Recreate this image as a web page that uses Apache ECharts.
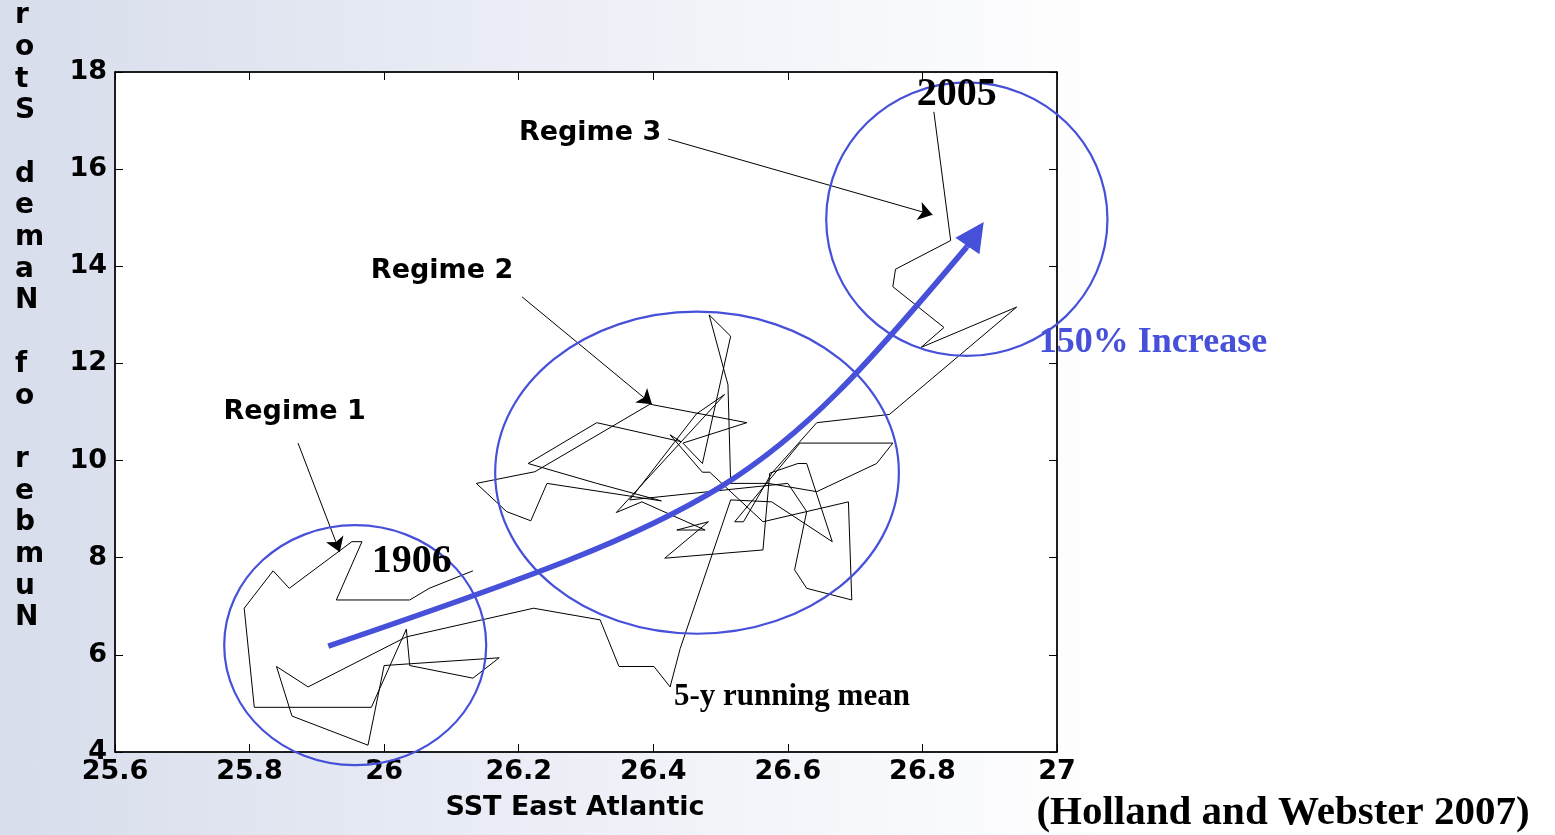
<!DOCTYPE html>
<html><head><meta charset="utf-8">
<script src="https://cdn.jsdelivr.net/npm/echarts@6/dist/echarts.min.js"></script>
<style>
html,body{margin:0;padding:0;width:1555px;height:835px;overflow:hidden;
background:linear-gradient(90deg,#d8ddec 0%,#e2e6f1 18%,#f1f3f9 45%,#ffffff 72%);}
#c{width:1555px;height:835px;}
</style>
</head><body><div id="c"></div>
<script>
// ---- data (5-y running mean trajectory, 1906 -> 2005) ----
const sst = [26.132, 26.067, 26.038, 25.929, 25.967, 25.952, 25.859, 25.835, 25.792, 25.807,
  25.981, 26.033, 26.038, 26.132, 26.171, 26.000, 25.976, 25.863, 25.840, 25.887,
  26.033, 26.222, 26.321, 26.349, 26.401, 26.425,
  26.440, 26.515, 26.576, 26.666, 26.628, 26.615, 26.573, 26.563, 26.417, 26.482,
  26.435, 26.477, 26.383, 26.345, 26.506, 26.464, 26.365, 26.600, 26.628, 26.610,
  26.628, 26.695, 26.690, 26.563, 26.484, 26.473, 26.425, 26.441, 26.316, 26.214,
  26.316, 26.412, 26.242, 26.218, 26.182, 26.137, 26.224, 26.395, 26.539, 26.444,
  26.473, 26.515, 26.483, 26.511, 26.515, 26.571, 26.643, 26.732, 26.756, 26.618,
  26.521, 26.534, 26.576, 26.643, 26.751,
  26.940, 26.798, 26.832, 26.756, 26.760, 26.842, 26.817];
const storms = [7.73, 7.37, 7.13, 7.13, 8.33, 8.33, 7.37, 7.73, 6.96, 4.92,
  4.92, 6.53, 5.78, 5.52, 5.94, 5.78, 4.14, 4.74, 5.76, 5.34,
  6.37, 6.96, 6.72, 5.76, 5.76, 5.34,
  6.13, 9.19, 9.15, 8.33, 9.94, 9.94, 9.74, 8.16, 7.99, 8.74,
  8.57, 8.57, 9.15, 8.93, 11.36, 10.96, 9.19, 9.53, 8.95, 7.75,
  7.37, 7.13, 9.15, 8.74, 9.76, 9.76, 10.53, 10.39, 10.78, 9.94,
  9.53, 9.17, 9.53, 8.76, 8.95, 9.53, 9.77, 11.16, 10.78, 10.36,
  9.94, 12.56, 13.00, 11.56, 9.53, 9.53, 9.36, 9.94, 10.36, 10.36,
  8.74, 8.74, 9.74, 10.78, 10.95,
  13.16, 12.33, 12.74, 13.58, 13.94, 14.53, 17.18];
// trend arrow (150% increase): start, tangent corner, end
const trendSst = [25.917, 26.548, 26.866];
const trendStorms = [6.18, 9.16, 14.40];
const trendHead = [[26.866, 14.40], [26.879, 14.665]];
// tick settings
const xMin = 25.6, xMax = 27, xStep = 0.2;
const yMin = 4, yMax = 18, yStep = 2;
const xName = 'SST East Atlantic';
const yNameChars = ['r','o','t','S',' ','d','e','m','a','N',' ','f','o',' ','r','e','b','m','u','N'];
// annotation anchors (data coords)
const regimeArrows = [
  [[25.872, 10.36], [25.934, 8.12]],
  [[26.205, 13.37], [26.398, 11.16]],
  [[26.422, 16.62], [26.815, 15.06]]
];
const ellipses = [
  {cx: 25.957, cy: 6.20, rx: 0.1947, ry: 2.47},
  {cx: 26.465, cy: 9.75, rx: 0.300, ry: 3.315},
  {cx: 26.866, cy: 14.97, rx: 0.209, ry: 2.815}
];
const labels = [
  {text: 'Regime 1', x: 25.867, y: 11.00, kind: 'sans'},
  {text: 'Regime 2', x: 26.086, y: 13.90, kind: 'sans'},
  {text: 'Regime 3', x: 26.306, y: 16.74, kind: 'sans'},
  {text: '1906', x: 26.041, y: 7.91, kind: 'year'},
  {text: '2005', x: 26.851, y: 17.53, kind: 'year'},
  {text: '5-y running mean', x: 26.606, y: 5.13, kind: 'note'},
  {text: '150% Increase', x: 26.973, y: 12.42, kind: 'blue'}
];
const source = '(Holland and Webster 2007)';

const BLUE = '#4650d8';
const SANS = '"DejaVu Sans", sans-serif';
const SERIF = '"Liberation Serif", "Times New Roman", serif';

const chart = echarts.init(document.getElementById('c'), null, {renderer: 'canvas'});
const fmt = v => String(+(+v).toFixed(1));
const axisCommon = {
  axisLine: {show: true, onZero: false, lineStyle: {color: '#000', width: 1.5}},
  axisTick: {show: true, inside: true, length: 8, lineStyle: {color: '#000', width: 1}},
  splitLine: {show: false}
};
chart.setOption({
  animation: false,
  backgroundColor: 'transparent',
  grid: {left: 115, top: 72, width: 942, height: 680, show: true, backgroundColor: '#fff', borderColor: '#000', borderWidth: 1},
  xAxis: [
    Object.assign({type: 'value', position: 'bottom', min: xMin, max: xMax, interval: xStep,
      axisLabel: {formatter: fmt, color: '#000', fontFamily: SANS, fontWeight: 'bold', fontSize: 27, margin: 6},
      name: xName, nameLocation: 'middle', nameGap: 42,
      nameTextStyle: {color: '#000', fontFamily: SANS, fontWeight: 'bold', fontSize: 27, padding: [0, 22, 0, 0]}
    }, axisCommon),
    Object.assign({type: 'value', position: 'top', min: xMin, max: xMax, interval: xStep, axisLabel: {show: false}}, axisCommon)
  ],
  yAxis: [
    Object.assign({type: 'value', position: 'left', min: yMin, max: yMax, interval: yStep,
      axisLabel: {color: '#000', fontFamily: SANS, fontWeight: 'bold', fontSize: 27, margin: 8}}, axisCommon),
    Object.assign({type: 'value', position: 'right', min: yMin, max: yMax, interval: yStep, axisLabel: {show: false}}, axisCommon)
  ],
  series: [
    {type: 'line', name: '5-y running mean', data: sst.map((x, i) => [x, storms[i]]),
      symbol: 'none', showSymbol: false, lineStyle: {color: '#000', width: 1}, z: 2, clip: false},
    {type: 'lines', coordinateSystem: 'cartesian2d', data: [{coords: trendHead}],
      symbol: ['none', 'triangle'], symbolSize: 29, lineStyle: {color: BLUE, width: 5.5, opacity: 1}, z: 4},
    {type: 'lines', coordinateSystem: 'cartesian2d', data: regimeArrows.map(c => ({coords: c})),
      symbol: ['none', 'arrow'], symbolSize: 14, lineStyle: {color: '#000', width: 1, opacity: 1}, z: 3}
  ]
});

const px = p => chart.convertToPixel({gridIndex: 0}, p);
const graphics = [];
// trend curve as a cubic bezier through the library's scales
const p0 = px([trendSst[0], trendStorms[0]]);
const pc = px([trendSst[1], trendStorms[1]]);
const p3 = px([trendSst[2], trendStorms[2]]);
const k = 0.95;
graphics.push({type: 'bezierCurve', z: 4, silent: true,
  shape: {x1: p0[0], y1: p0[1], x2: p3[0], y2: p3[1],
    cpx1: p0[0] + k * (pc[0] - p0[0]), cpy1: p0[1] + k * (pc[1] - p0[1]),
    cpx2: p3[0] + k * (pc[0] - p3[0]), cpy2: p3[1] + k * (pc[1] - p3[1])},
  style: {fill: null, stroke: BLUE, lineWidth: 5.5}});
ellipses.forEach(e => {
  const c = px([e.cx, e.cy]);
  const r = px([e.cx + e.rx, e.cy - e.ry]);
  graphics.push({type: 'ellipse', z: 5, silent: true,
    shape: {cx: c[0], cy: c[1], rx: r[0] - c[0], ry: r[1] - c[1]},
    style: {fill: null, stroke: BLUE, lineWidth: 2.2}});
});
labels.forEach(l => {
  const p = px([l.x, l.y]);
  let font, fill = '#000', align = 'center';
  if (l.kind === 'sans') font = 'bold 27px ' + SANS;
  else if (l.kind === 'year') font = 'bold 40px ' + SERIF;
  else if (l.kind === 'note') font = 'bold 31px ' + SERIF;
  else { font = 'bold 36px ' + SERIF; fill = BLUE; align = 'left'; }
  graphics.push({type: 'text', z: 6, x: p[0], y: p[1],
    style: {text: l.text, font: font, fill: fill, align: align, verticalAlign: 'middle'}});
});
graphics.push({type: 'text', z: 6, x: 1283, y: 813,
  style: {text: source, font: 'bold 41px ' + SERIF, fill: '#000', align: 'center', verticalAlign: 'middle'}});
graphics.push({type: 'text', z: 6, x: 15, y: 0,
  style: {text: yNameChars.join('\n'), font: 'bold 28px ' + SANS, lineHeight: 31.7, fill: '#000', align: 'left', verticalAlign: 'top'}});
chart.setOption({graphic: graphics});
</script>
</body></html>
